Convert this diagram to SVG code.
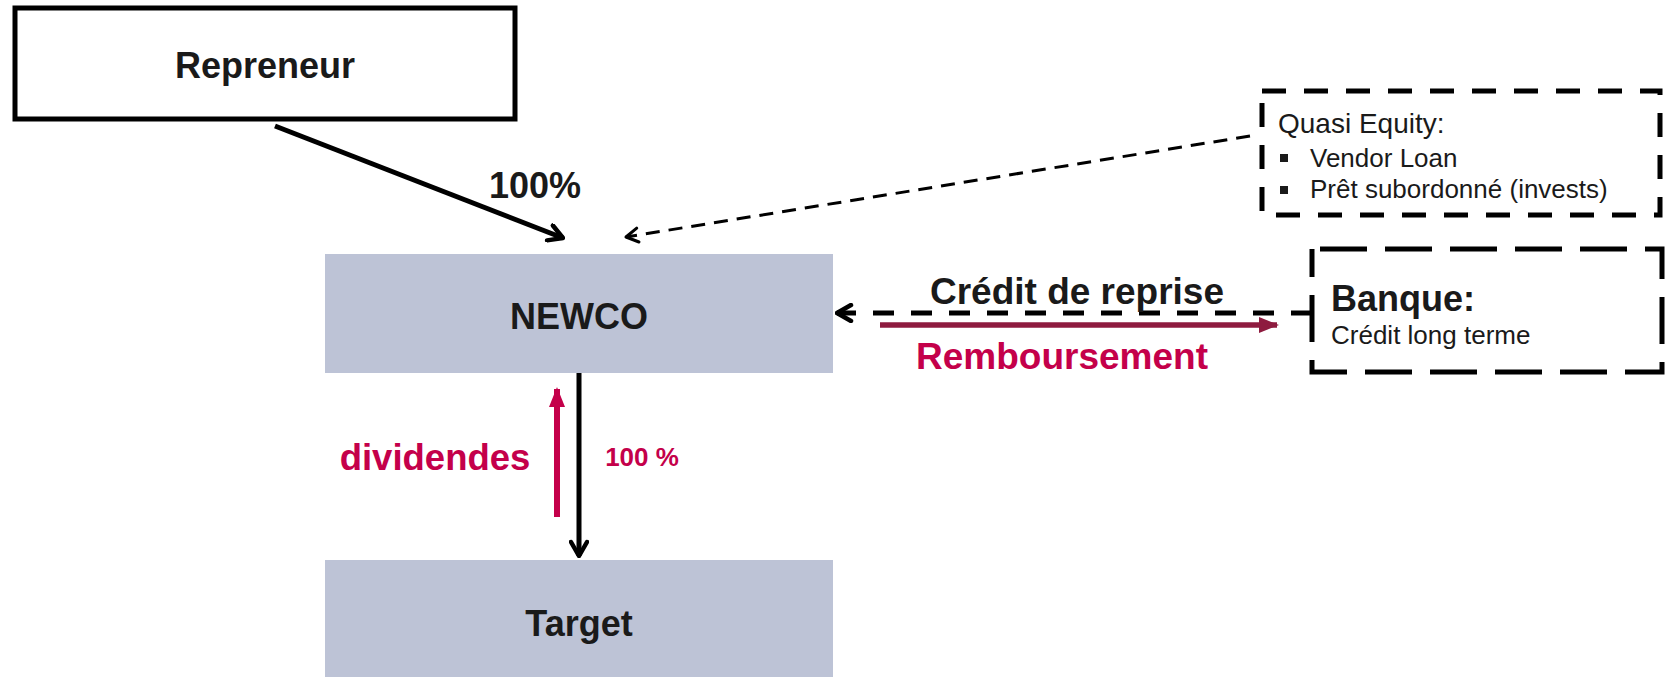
<svg xmlns="http://www.w3.org/2000/svg" width="1672" height="677" viewBox="0 0 1672 677">
  <style>
    text { font-family: "Liberation Sans", Arial, sans-serif; fill: #1a1a1a; }
    .b { font-weight: bold; }
    .red { fill: #c4004a; }
    .entity { fill: #bdc3d6; }
    .solid { fill: none; stroke: #000; stroke-width: 5; }
    .dashbox { fill: none; stroke: #000; stroke-width: 5; }
  </style>
  <defs>
    <marker id="openHead" viewBox="0 0 20 20" refX="18" refY="10" markerWidth="20" markerHeight="20" markerUnits="userSpaceOnUse" orient="auto">
      <path d="M4,2 L18,10 L4,18" fill="none" stroke="#000" stroke-width="4.5" stroke-linecap="round" stroke-linejoin="round"/>
    </marker>
    <marker id="openHeadThin" viewBox="0 0 20 20" refX="18" refY="10" markerWidth="20" markerHeight="20" markerUnits="userSpaceOnUse" orient="auto">
      <path d="M6,3 L18,10 L6,17" fill="none" stroke="#000" stroke-width="3" stroke-linecap="round" stroke-linejoin="round"/>
    </marker>
    <marker id="redHead" viewBox="0 0 20 20" refX="18" refY="10" markerWidth="20" markerHeight="20" markerUnits="userSpaceOnUse" orient="auto">
      <path d="M0,2 L20,10 L0,18 Z" fill="#c4004a"/>
    </marker>
    <marker id="maroonHead" viewBox="0 0 20 20" refX="18" refY="10" markerWidth="20" markerHeight="20" markerUnits="userSpaceOnUse" orient="auto">
      <path d="M0,2 L20,10 L0,18 Z" fill="#8e1b3f"/>
    </marker>
  </defs>

  <!-- connectors -->
  <g id="connectors">
    <line x1="275" y1="126" x2="563" y2="238" class="solid" marker-end="url(#openHead)"/>
    <line x1="1250" y1="136" x2="626" y2="237" fill="none" stroke="#000" stroke-width="3" stroke-dasharray="14 9" marker-end="url(#openHeadThin)"/>
    <line x1="1312" y1="313" x2="837" y2="313" fill="none" stroke="#000" stroke-width="5" stroke-dasharray="21 17" marker-end="url(#openHead)"/>
    <line x1="880" y1="325" x2="1277" y2="325" fill="none" stroke="#8e1b3f" stroke-width="5.5" marker-end="url(#maroonHead)"/>
    <line x1="579" y1="373" x2="579" y2="556" class="solid" marker-end="url(#openHead)"/>
    <line x1="557" y1="517" x2="557" y2="389" fill="none" stroke="#c4004a" stroke-width="6" marker-end="url(#redHead)"/>
  </g>

  <!-- connector labels -->
  <g id="labels">
    <text x="535" y="198" font-size="36" text-anchor="middle" class="b">100%</text>
    <text x="1077" y="304" font-size="37" text-anchor="middle" class="b">Crédit de reprise</text>
    <text x="1062" y="369" font-size="37" text-anchor="middle" class="b red">Remboursement</text>
    <text x="435" y="470" font-size="36.5" text-anchor="middle" class="b red">dividendes</text>
    <text x="642" y="466" font-size="26" text-anchor="middle" class="b red">100 %</text>
  </g>

  <g id="repreneur">
    <rect x="15" y="8" width="500" height="111" class="solid"/>
    <text x="265" y="78" font-size="36" text-anchor="middle" class="b">Repreneur</text>
  </g>

  <g id="newco">
    <rect x="325" y="254" width="508" height="119" class="entity"/>
    <text x="579" y="329" font-size="36" text-anchor="middle" class="b">NEWCO</text>
  </g>

  <g id="target">
    <rect x="325" y="560" width="508" height="130" class="entity"/>
    <text x="579" y="636" font-size="36" text-anchor="middle" class="b">Target</text>
  </g>

  <g id="quasi-equity">
    <rect x="1262" y="91" width="398" height="124" class="dashbox" stroke-dasharray="24 18"/>
    <text x="1278" y="133" font-size="28">Quasi Equity:</text>
    <rect x="1280" y="154" width="8" height="8" fill="#1a1a1a"/>
    <text x="1310" y="167" font-size="26">Vendor Loan</text>
    <rect x="1280" y="186" width="8" height="8" fill="#1a1a1a"/>
    <text x="1310" y="198" font-size="26">Prêt subordonné (invests)</text>
  </g>

  <g id="banque">
    <rect x="1312" y="249" width="350" height="123" class="dashbox" stroke-dasharray="47 18" stroke-dashoffset="57"/>
    <text x="1331" y="311" font-size="36" class="b">Banque:</text>
    <text x="1331" y="344" font-size="26">Crédit long terme</text>
  </g>
</svg>
